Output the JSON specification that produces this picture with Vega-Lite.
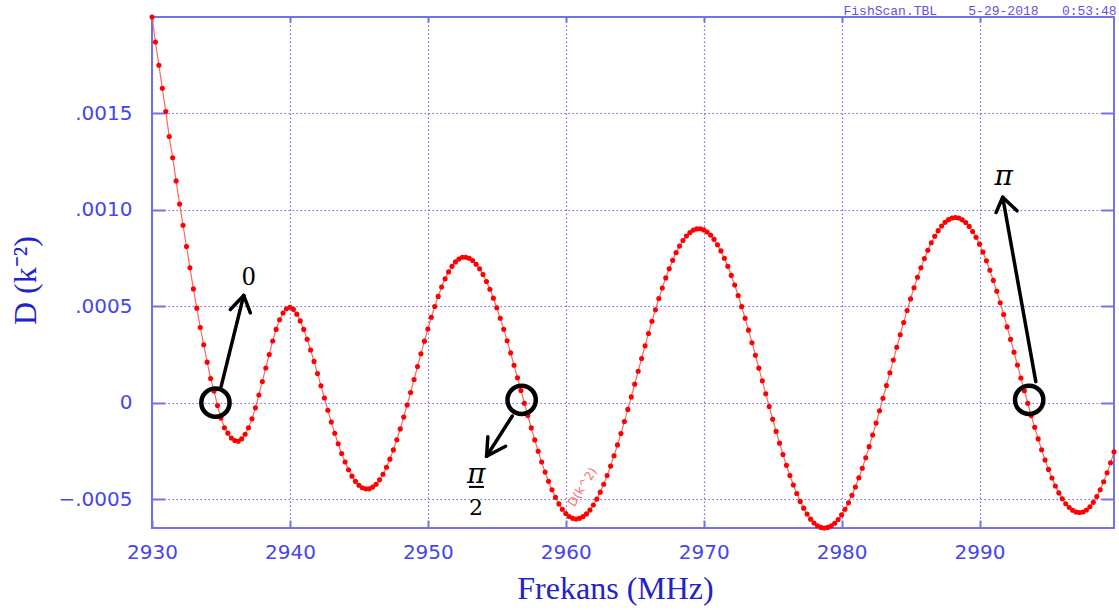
{
  "$schema": "https://vega.github.io/schema/vega-lite/v6.json",
  "width": 962,
  "height": 511,
  "autosize": {"type": "none"},
  "padding": {"left": 152, "top": 17, "right": 5, "bottom": 82},
  "background": "white",
  "view": {"stroke": "#7272ee", "strokeWidth": 2},
  "title": {
    "text": "FishScan.TBL\u00a0\u00a0\u00a0\u00a05-29-2018\u00a0\u00a0\u00a00:53:48",
    "anchor": "end",
    "font": "Liberation Mono",
    "fontSize": 13,
    "fontWeight": "normal",
    "color": "#6650dd",
    "baseline": "bottom",
    "offset": -17
  },
  "datasets": {
    "curve": [
      {"f": 2930, "d": 0.00200}, {"f": 2930.25, "d": 0.00187}, {"f": 2930.5, "d": 0.00175}, {"f": 2930.75, "d": 0.00163},
      {"f": 2931, "d": 0.00151}, {"f": 2931.25, "d": 0.00138}, {"f": 2931.5, "d": 0.00127}, {"f": 2931.75, "d": 0.00115},
      {"f": 2932, "d": 0.00103}, {"f": 2932.25, "d": 0.00092}, {"f": 2932.5, "d": 0.00081}, {"f": 2932.75, "d": 0.00070},
      {"f": 2933, "d": 0.00059}, {"f": 2933.25, "d": 0.00049}, {"f": 2933.5, "d": 0.00039}, {"f": 2933.75, "d": 0.00030},
      {"f": 2934, "d": 0.00021}, {"f": 2934.25, "d": 0.000125}, {"f": 2934.5, "d": 0.00006}, {"f": 2934.75, "d": -0.000015},
      {"f": 2935, "d": -0.00008}, {"f": 2935.25, "d": -0.00013}, {"f": 2935.5, "d": -0.000158}, {"f": 2935.75, "d": -0.000183},
      {"f": 2936, "d": -0.000196}, {"f": 2936.25, "d": -0.0002}, {"f": 2936.5, "d": -0.000188}, {"f": 2936.75, "d": -0.000164},
      {"f": 2937, "d": -0.00013}, {"f": 2937.25, "d": -0.000084}, {"f": 2937.5, "d": -0.000027}, {"f": 2937.75, "d": 0.00004},
      {"f": 2938, "d": 0.00011}, {"f": 2938.25, "d": 0.00018}, {"f": 2938.5, "d": 0.00025}, {"f": 2938.75, "d": 0.00032},
      {"f": 2939, "d": 0.00038}, {"f": 2939.25, "d": 0.00043}, {"f": 2939.5, "d": 0.000465}, {"f": 2939.75, "d": 0.000487},
      {"f": 2940, "d": 0.000495}, {"f": 2940.25, "d": 0.000484}, {"f": 2940.5, "d": 0.000459}, {"f": 2940.75, "d": 0.000424},
      {"f": 2941, "d": 0.000380}, {"f": 2941.25, "d": 0.000329}, {"f": 2941.5, "d": 0.000273}, {"f": 2941.75, "d": 0.000214},
      {"f": 2942, "d": 0.000151}, {"f": 2942.25, "d": 0.000088}, {"f": 2942.5, "d": 0.000024}, {"f": 2942.75, "d": -0.000039},
      {"f": 2943, "d": -0.000100}, {"f": 2943.25, "d": -0.000159}, {"f": 2943.5, "d": -0.000213}, {"f": 2943.75, "d": -0.000264},
      {"f": 2944, "d": -0.000308}, {"f": 2944.25, "d": -0.000348}, {"f": 2944.5, "d": -0.000381}, {"f": 2944.75, "d": -0.000408},
      {"f": 2945, "d": -0.000428}, {"f": 2945.25, "d": -0.000441}, {"f": 2945.5, "d": -0.000447}, {"f": 2945.75, "d": -0.000447},
      {"f": 2946, "d": -0.000438}, {"f": 2946.25, "d": -0.000423}, {"f": 2946.5, "d": -0.000400}, {"f": 2946.75, "d": -0.000371},
      {"f": 2947, "d": -0.000335}, {"f": 2947.25, "d": -0.000293}, {"f": 2947.5, "d": -0.000245}, {"f": 2947.75, "d": -0.000192},
      {"f": 2948, "d": -0.000136}, {"f": 2948.25, "d": -0.000075}, {"f": 2948.5, "d": -0.000012}, {"f": 2948.75, "d": 0.000053},
      {"f": 2949, "d": 0.000120}, {"f": 2949.25, "d": 0.000187}, {"f": 2949.5, "d": 0.000254}, {"f": 2949.75, "d": 0.000319},
      {"f": 2950, "d": 0.000382}, {"f": 2950.25, "d": 0.000443}, {"f": 2950.5, "d": 0.000499}, {"f": 2950.75, "d": 0.000551},
      {"f": 2951, "d": 0.000600}, {"f": 2951.25, "d": 0.000642}, {"f": 2951.5, "d": 0.000678}, {"f": 2951.75, "d": 0.000707},
      {"f": 2952, "d": 0.000730}, {"f": 2952.25, "d": 0.000745}, {"f": 2952.5, "d": 0.000754}, {"f": 2952.75, "d": 0.000754},
      {"f": 2953, "d": 0.000749}, {"f": 2953.25, "d": 0.000737}, {"f": 2953.5, "d": 0.000718}, {"f": 2953.75, "d": 0.000694},
      {"f": 2954, "d": 0.000664}, {"f": 2954.25, "d": 0.000628}, {"f": 2954.5, "d": 0.000588}, {"f": 2954.75, "d": 0.000542},
      {"f": 2955, "d": 0.000492}, {"f": 2955.25, "d": 0.000438}, {"f": 2955.5, "d": 0.000381}, {"f": 2955.75, "d": 0.000321},
      {"f": 2956, "d": 0.000258}, {"f": 2956.25, "d": 0.000194}, {"f": 2956.5, "d": 0.000129}, {"f": 2956.75, "d": 0.000063},
      {"f": 2957, "d": -0.000003}, {"f": 2957.25, "d": -0.000067}, {"f": 2957.5, "d": -0.000131}, {"f": 2957.75, "d": -0.000193},
      {"f": 2958, "d": -0.000252}, {"f": 2958.25, "d": -0.000308}, {"f": 2958.5, "d": -0.000360}, {"f": 2958.75, "d": -0.000408},
      {"f": 2959, "d": -0.000452}, {"f": 2959.25, "d": -0.000491}, {"f": 2959.5, "d": -0.000525}, {"f": 2959.75, "d": -0.000553},
      {"f": 2960, "d": -0.000575}, {"f": 2960.25, "d": -0.000590}, {"f": 2960.5, "d": -0.000600}, {"f": 2960.75, "d": -0.000603},
      {"f": 2961, "d": -0.000600}, {"f": 2961.25, "d": -0.000591}, {"f": 2961.5, "d": -0.000577}, {"f": 2961.75, "d": -0.000557},
      {"f": 2962, "d": -0.000531}, {"f": 2962.25, "d": -0.000500}, {"f": 2962.5, "d": -0.000464}, {"f": 2962.75, "d": -0.000423},
      {"f": 2963, "d": -0.000378}, {"f": 2963.25, "d": -0.000329}, {"f": 2963.5, "d": -0.000275}, {"f": 2963.75, "d": -0.000219},
      {"f": 2964, "d": -0.000160}, {"f": 2964.25, "d": -0.000098}, {"f": 2964.5, "d": -0.000035}, {"f": 2964.75, "d": 0.000030},
      {"f": 2965, "d": 0.000096}, {"f": 2965.25, "d": 0.000163}, {"f": 2965.5, "d": 0.000229}, {"f": 2965.75, "d": 0.000295},
      {"f": 2966, "d": 0.000359}, {"f": 2966.25, "d": 0.000422}, {"f": 2966.5, "d": 0.000482}, {"f": 2966.75, "d": 0.000540},
      {"f": 2967, "d": 0.000595}, {"f": 2967.25, "d": 0.000647}, {"f": 2967.5, "d": 0.000694}, {"f": 2967.75, "d": 0.000738},
      {"f": 2968, "d": 0.000778}, {"f": 2968.25, "d": 0.000812}, {"f": 2968.5, "d": 0.000841}, {"f": 2968.75, "d": 0.000864},
      {"f": 2969, "d": 0.000882}, {"f": 2969.25, "d": 0.000895}, {"f": 2969.5, "d": 0.000901}, {"f": 2969.75, "d": 0.000902},
      {"f": 2970, "d": 0.000896}, {"f": 2970.25, "d": 0.000885}, {"f": 2970.5, "d": 0.000869}, {"f": 2970.75, "d": 0.000847},
      {"f": 2971, "d": 0.000819}, {"f": 2971.25, "d": 0.000787}, {"f": 2971.5, "d": 0.000749}, {"f": 2971.75, "d": 0.000707},
      {"f": 2972, "d": 0.000660}, {"f": 2972.25, "d": 0.000610}, {"f": 2972.5, "d": 0.000556}, {"f": 2972.75, "d": 0.000498},
      {"f": 2973, "d": 0.000438}, {"f": 2973.25, "d": 0.000376}, {"f": 2973.5, "d": 0.000311}, {"f": 2973.75, "d": 0.000246},
      {"f": 2974, "d": 0.000179}, {"f": 2974.25, "d": 0.000113}, {"f": 2974.5, "d": 0.000046}, {"f": 2974.75, "d": -0.000020},
      {"f": 2975, "d": -0.000086}, {"f": 2975.25, "d": -0.000149}, {"f": 2975.5, "d": -0.000210}, {"f": 2975.75, "d": -0.000269},
      {"f": 2976, "d": -0.000325}, {"f": 2976.25, "d": -0.000378}, {"f": 2976.5, "d": -0.000427}, {"f": 2976.75, "d": -0.000471},
      {"f": 2977, "d": -0.000512}, {"f": 2977.25, "d": -0.000547}, {"f": 2977.5, "d": -0.000578}, {"f": 2977.75, "d": -0.000604},
      {"f": 2978, "d": -0.000624}, {"f": 2978.25, "d": -0.000638}, {"f": 2978.5, "d": -0.000647}, {"f": 2978.75, "d": -0.000650},
      {"f": 2979, "d": -0.000647}, {"f": 2979.25, "d": -0.000639}, {"f": 2979.5, "d": -0.000625}, {"f": 2979.75, "d": -0.000606},
      {"f": 2980, "d": -0.000582}, {"f": 2980.25, "d": -0.000553}, {"f": 2980.5, "d": -0.000519}, {"f": 2980.75, "d": -0.000480},
      {"f": 2981, "d": -0.000437}, {"f": 2981.25, "d": -0.000390}, {"f": 2981.5, "d": -0.000340}, {"f": 2981.75, "d": -0.000286},
      {"f": 2982, "d": -0.000228}, {"f": 2982.25, "d": -0.000168}, {"f": 2982.5, "d": -0.000106}, {"f": 2982.75, "d": -0.000042},
      {"f": 2983, "d": 0.000023}, {"f": 2983.25, "d": 0.000089}, {"f": 2983.5, "d": 0.000155}, {"f": 2983.75, "d": 0.000221},
      {"f": 2984, "d": 0.000287}, {"f": 2984.25, "d": 0.000352}, {"f": 2984.5, "d": 0.000416}, {"f": 2984.75, "d": 0.000478},
      {"f": 2985, "d": 0.000538}, {"f": 2985.25, "d": 0.000596}, {"f": 2985.5, "d": 0.000650}, {"f": 2985.75, "d": 0.000700},
      {"f": 2986, "d": 0.000747}, {"f": 2986.25, "d": 0.000790}, {"f": 2986.5, "d": 0.000829}, {"f": 2986.75, "d": 0.000863},
      {"f": 2987, "d": 0.000892}, {"f": 2987.25, "d": 0.000916}, {"f": 2987.5, "d": 0.000935}, {"f": 2987.75, "d": 0.000949},
      {"f": 2988, "d": 0.000957}, {"f": 2988.25, "d": 0.000960}, {"f": 2988.5, "d": 0.000957}, {"f": 2988.75, "d": 0.000948},
      {"f": 2989, "d": 0.000934}, {"f": 2989.25, "d": 0.000914}, {"f": 2989.5, "d": 0.000888}, {"f": 2989.75, "d": 0.000858},
      {"f": 2990, "d": 0.000822}, {"f": 2990.25, "d": 0.000781}, {"f": 2990.5, "d": 0.000736}, {"f": 2990.75, "d": 0.000687},
      {"f": 2991, "d": 0.000634}, {"f": 2991.25, "d": 0.000578}, {"f": 2991.5, "d": 0.000518}, {"f": 2991.75, "d": 0.000457},
      {"f": 2992, "d": 0.000393}, {"f": 2992.25, "d": 0.000328}, {"f": 2992.5, "d": 0.000262}, {"f": 2992.75, "d": 0.000195},
      {"f": 2993, "d": 0.000128}, {"f": 2993.25, "d": 0.000062}, {"f": 2993.5, "d": -0.000003}, {"f": 2993.75, "d": -0.000067},
      {"f": 2994, "d": -0.000128}, {"f": 2994.25, "d": -0.000188}, {"f": 2994.5, "d": -0.000244}, {"f": 2994.75, "d": -0.000297},
      {"f": 2995, "d": -0.000346}, {"f": 2995.25, "d": -0.000391}, {"f": 2995.5, "d": -0.000432}, {"f": 2995.75, "d": -0.000468},
      {"f": 2996, "d": -0.000498}, {"f": 2996.25, "d": -0.000524}, {"f": 2996.5, "d": -0.000544}, {"f": 2996.75, "d": -0.000558},
      {"f": 2997, "d": -0.000567}, {"f": 2997.25, "d": -0.000570}, {"f": 2997.5, "d": -0.000567}, {"f": 2997.75, "d": -0.000557},
      {"f": 2998, "d": -0.000540}, {"f": 2998.25, "d": -0.000517}, {"f": 2998.5, "d": -0.000487}, {"f": 2998.75, "d": -0.000452},
      {"f": 2999, "d": -0.000410}, {"f": 2999.25, "d": -0.000364}, {"f": 2999.5, "d": -0.000312}, {"f": 2999.75, "d": -0.000255}
    ],
    "circles": [
      {"f": 2934.6, "d": 0.0},
      {"f": 2956.8, "d": 0.000014},
      {"f": 2993.6, "d": 0.000014}
    ],
    "arrows": [
      {"x": 2935.01, "y": 0.0000833, "x2": 2936.65, "y2": 0.000556},
      {"x": 2936.65, "y": 0.000556, "x2": 2935.68, "y2": 0.000483},
      {"x": 2936.65, "y": 0.000556, "x2": 2937.13, "y2": 0.000466},
      {"x": 2956.12, "y": -0.0000693, "x2": 2954.26, "y2": -0.000278},
      {"x": 2954.26, "y": -0.000278, "x2": 2954.35, "y2": -0.000177},
      {"x": 2954.26, "y": -0.000278, "x2": 2955.64, "y2": -0.000226},
      {"x": 2994.08, "y": 0.000109, "x2": 2991.68, "y2": 0.001065},
      {"x": 2991.68, "y": 0.001065, "x2": 2991.2, "y2": 0.000986},
      {"x": 2991.68, "y": 0.001065, "x2": 2992.72, "y2": 0.000995}
    ],
    "fracbar": [
      {"x": 2952.98, "y": -0.000437, "x2": 2954.07, "y2": -0.000437}
    ],
    "zero": [{"x": 2937.01, "y": 0.000653, "t": "0"}],
    "pis": [
      {"x": 2953.5, "y": -0.000377, "t": "π"},
      {"x": 2991.76, "y": 0.001169, "t": "π"}
    ],
    "two": [{"x": 2953.5, "y": -0.000547, "t": "2"}],
    "serieslabel": [{"x": 2961.2, "y": -0.000437, "t": "D(k^2)"}]
  },
  "layer": [
    {
      "layer": [
        {
          "data": {"name": "curve"},
          "mark": {"type": "line", "color": "#ff4a4a", "strokeWidth": 1.2, "opacity": 0.85},
          "encoding": {
            "x": {
              "field": "f", "type": "quantitative",
              "scale": {"domain": [2930, 2999.75], "nice": false, "zero": false},
              "axis": {
                "orient": "bottom",
                "values": [2930, 2940, 2950, 2960, 2970, 2980, 2990],
                "format": "d",
                "title": "Frekans (MHz)",
                "titleFont": "Liberation Serif",
                "titleFontSize": 32,
                "titleFontWeight": "normal",
                "titleColor": "#2222cc",
                "titleX": 463,
                "titleY": 70,
                "titleAlign": "center",
                "titleBaseline": "alphabetic",
                "labelFont": "DejaVu Sans",
                "labelFontSize": 20,
                "labelColor": "#4545ee",
                "labelPadding": 22,
                "labelFlush": false,
                "labelOverlap": false,
                "tickSize": -8,
                "tickColor": "#7272ee",
                "tickWidth": 2,
                "domain": false,
                "grid": true,
                "gridColor": "#6a6af0",
                "gridDash": [1.5, 2.5],
                "gridWidth": 1.2
              }
            },
            "y": {
              "field": "d", "type": "quantitative",
              "scale": {"domain": [-0.00065, 0.002], "nice": false, "zero": false},
              "axis": {
                "orient": "left",
                "values": [-0.0005, 0, 0.0005, 0.001, 0.0015],
                "labelExpr": "datum.value == 0 ? '0' : replace(format(datum.value, '.4f'), '0.', '.')",
                "title": "D (k⁻²)",
                "titleFont": "Liberation Serif",
                "titleFontSize": 32,
                "titleFontWeight": "normal",
                "titleColor": "#2222cc",
                "titleAngle": -90,
                "titleX": -117,
                "titleY": 263,
                "titleAlign": "center",
                "titleBaseline": "alphabetic",
                "labelFont": "DejaVu Sans",
                "labelFontSize": 20,
                "labelColor": "#4545ee",
                "labelPadding": 33,
                "labelBaseline": "middle",
                "tickSize": -13,
                "tickColor": "#7272ee",
                "tickWidth": 2,
                "domain": false,
                "grid": true,
                "gridColor": "#6a6af0",
                "gridDash": [1.5, 2.5],
                "gridWidth": 1.2
              }
            }
          }
        },
        {
          "data": {"name": "curve"},
          "mark": {"type": "point", "filled": true, "color": "#ff0000", "size": 26, "opacity": 1},
          "encoding": {
            "x": {"field": "f", "type": "quantitative"},
            "y": {"field": "d", "type": "quantitative"}
          }
        },
        {
          "data": {"name": "serieslabel"},
          "mark": {"type": "text", "color": "#ff6a6a", "fontSize": 12, "font": "DejaVu Sans", "angle": 302, "align": "center", "baseline": "middle"},
          "encoding": {
            "x": {"field": "x", "type": "quantitative"},
            "y": {"field": "y", "type": "quantitative"},
            "text": {"field": "t"}
          }
        },
        {
          "data": {"name": "circles"},
          "mark": {"type": "point", "filled": false, "shape": "circle", "stroke": "#000000", "strokeWidth": 4.5, "size": 800, "opacity": 1},
          "encoding": {
            "x": {"field": "f", "type": "quantitative"},
            "y": {"field": "d", "type": "quantitative"}
          }
        },
        {
          "data": {"name": "arrows"},
          "mark": {"type": "rule", "color": "#000000", "strokeWidth": 3.5, "strokeCap": "round"},
          "encoding": {
            "x": {"field": "x", "type": "quantitative"},
            "y": {"field": "y", "type": "quantitative"},
            "x2": {"field": "x2"},
            "y2": {"field": "y2"}
          }
        },
        {
          "data": {"name": "fracbar"},
          "mark": {"type": "rule", "color": "#000000", "strokeWidth": 2},
          "encoding": {
            "x": {"field": "x", "type": "quantitative"},
            "y": {"field": "y", "type": "quantitative"},
            "x2": {"field": "x2"},
            "y2": {"field": "y2"}
          }
        },
        {
          "data": {"name": "zero"},
          "mark": {"type": "text", "color": "#000000", "fontSize": 27, "font": "Liberation Serif", "align": "center", "baseline": "middle"},
          "encoding": {
            "x": {"field": "x", "type": "quantitative"},
            "y": {"field": "y", "type": "quantitative"},
            "text": {"field": "t"}
          }
        },
        {
          "data": {"name": "pis"},
          "mark": {"type": "text", "color": "#000000", "fontSize": 28, "font": "DejaVu Serif", "fontStyle": "italic", "align": "center", "baseline": "middle"},
          "encoding": {
            "x": {"field": "x", "type": "quantitative"},
            "y": {"field": "y", "type": "quantitative"},
            "text": {"field": "t"}
          }
        },
        {
          "data": {"name": "two"},
          "mark": {"type": "text", "color": "#000000", "fontSize": 22, "font": "DejaVu Serif", "align": "center", "baseline": "middle"},
          "encoding": {
            "x": {"field": "x", "type": "quantitative"},
            "y": {"field": "y", "type": "quantitative"},
            "text": {"field": "t"}
          }
        }
      ]
    },
    {
      "data": {"name": "curve"},
      "mark": {"type": "point", "opacity": 0, "size": 1},
      "encoding": {
        "x": {
          "field": "f", "type": "quantitative",
          "axis": {
            "orient": "top",
            "values": [2930, 2940, 2950, 2960, 2970, 2980, 2990],
            "labels": false,
            "title": null,
            "domain": false,
            "grid": false,
            "tickSize": -5,
            "tickColor": "#7272ee",
            "tickWidth": 2
          }
        },
        "y": {
          "field": "d", "type": "quantitative",
          "axis": {
            "orient": "right",
            "values": [-0.0005, 0, 0.0005, 0.001, 0.0015],
            "labels": false,
            "title": null,
            "domain": false,
            "grid": false,
            "tickSize": -13,
            "tickColor": "#7272ee",
            "tickWidth": 2
          }
        }
      }
    }
  ],
  "resolve": {"axis": {"x": "independent", "y": "independent"}}
}
